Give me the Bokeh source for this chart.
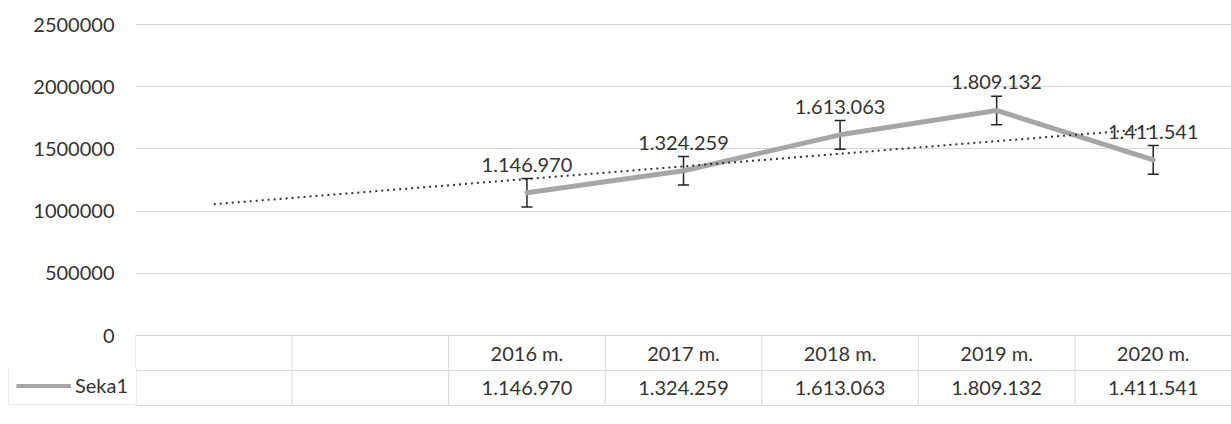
import numpy as np
from bokeh.plotting import figure
from bokeh.layouts import column
from bokeh.models import (Range1d, FixedTicker, NumeralTickFormatter, ColumnDataSource,
                          Whisker, TeeHead, Legend, LegendItem)
from bokeh.embed import file_html
from bokeh.resources import INLINE
from bokeh.core.properties import value

# ---------------- data ----------------
categories = ["", "", "2016 m.", "2017 m.", "2018 m.", "2019 m.", "2020 m."]
values = [None, None, 1146970, 1324259, 1613063, 1809132, 1411541]
value_labels = ["", "", "1.146.970", "1.324.259", "1.613.063", "1.809.132", "1.411.541"]
y_ticks = [0, 500000, 1000000, 1500000, 2000000, 2500000]
error_half = 115000          # standard-error bars
series_name = "Seka1"

# ---------------- layout constants ----------------
W = 1231
LEFT = 135
TOP_PX = 24                   # px of 2 500 000
ZERO_PX = 335                 # px of 0
ROW_PX = 35
SPLIT = 33                    # px below zero where the lower figure starts
H1 = ZERO_PX + SPLIT
H2 = 424 - H1
UPP = (y_ticks[-1] - y_ticks[0]) / (ZERO_PX - TOP_PX)   # data units per pixel
FONT = value("Lato")
TXT = "#333333"
GRID = "#d6d6d6"

n = len(categories)
xs = list(range(1, n + 1))
cat_px = (W - LEFT) / n

# ---------------- chart ----------------
p = figure(width=W, height=H1, output_backend="svg", toolbar_location=None,
           x_range=Range1d(0.5, n + 0.5),
           y_range=Range1d(-SPLIT * UPP, y_ticks[-1] + TOP_PX * UPP),
           x_axis_type=None, min_border_left=LEFT, min_border_right=0,
           min_border_top=0, min_border_bottom=0)
p.frame_align = False
p.outline_line_color = None
p.xgrid.visible = False

ax = p.yaxis[0]
ax.ticker = FixedTicker(ticks=y_ticks)
ax.formatter = NumeralTickFormatter(format="0")
ax.axis_line_color = None
ax.major_tick_line_color = None
ax.minor_tick_line_color = None
ax.major_label_standoff = 15
ax.major_label_text_font = "Lato"
ax.major_label_text_font_size = "20px"
ax.major_label_text_color = TXT
p.ygrid.ticker = FixedTicker(ticks=y_ticks)
p.ygrid.grid_line_color = GRID
p.ygrid.grid_line_width = 1

px_ = [x for x, v in zip(xs, values) if v is not None]
pv_ = [v for v in values if v is not None]
pl_ = [l for l, v in zip(value_labels, values) if v is not None]
src = ColumnDataSource(dict(x=px_, y=pv_, lab=pl_,
                            up=[v + error_half for v in pv_],
                            lo=[v - error_half for v in pv_]))

p.line("x", "y", source=src, line_color="#a6a6a6", line_width=5,
       line_join="round", line_cap="round")

p.add_layout(Whisker(base="x", upper="up", lower="lo", source=src,
                     line_color="#222222", line_width=1.5,
                     upper_head=TeeHead(size=11, line_color="#222222", line_width=1.5),
                     lower_head=TeeHead(size=11, line_color="#222222", line_width=1.5)))

# linear trendline over the category index (Excel style), across all categories
k, b = np.polyfit(px_, pv_, 1)
p.line([xs[0], xs[-1]], [k * xs[0] + b, k * xs[-1] + b], line_color="#333333",
       line_width=2, line_dash="2 4")

p.text("x", "y", text="lab", source=src, y_offset=-28, text_align="center",
       text_baseline="middle", text_font=FONT, text_font_size="20px", text_color=TXT)

# data table, header row (sits under the zero line)
bx = [i + 0.5 for i in range(0, n + 1)]
p.segment(x0=bx, x1=bx, y0=[0] * len(bx), y1=[-SPLIT * UPP] * len(bx),
          line_color=GRID, line_width=1)
tx = [x for x, c in zip(xs, categories) if c]
tc = [c for c in categories if c]
tv = [l for l in value_labels if l]
p.text(tx, [-0.5 * ROW_PX * UPP] * len(tx), text=tc, text_align="center",
       text_baseline="middle", text_font=FONT, text_font_size="20px", text_color=TXT)

# ---------------- data table, value row ----------------
t = figure(width=W, height=H2, output_backend="svg", toolbar_location=None,
           x_range=Range1d(0.5 - LEFT / cat_px, n + 0.5),
           y_range=Range1d(-(SPLIT + H2), -SPLIT),
           x_axis_type=None, y_axis_type=None,
           min_border_left=0, min_border_right=0, min_border_top=0, min_border_bottom=0)
t.frame_align = False
t.outline_line_color = None
t.grid.visible = False

t.segment(x0=bx, x1=bx, y0=[-SPLIT] * len(bx), y1=[-2 * ROW_PX] * len(bx),
          line_color=GRID, line_width=1)
t.segment(x0=[0.5, 0.5], x1=[n + 0.5, n + 0.5], y0=[-ROW_PX, -2 * ROW_PX],
          y1=[-ROW_PX, -2 * ROW_PX], line_color=GRID, line_width=1)
t.text(tx, [-1.5 * ROW_PX] * len(tx), text=tv, text_align="center", text_baseline="middle",
       text_font=FONT, text_font_size="20px", text_color=TXT)

key = t.line(x=[-50, -49], y=[-500, -500], line_color="#a6a6a6", line_width=4)
legend = Legend(items=[LegendItem(label=series_name, renderers=[key])],
                location=(8, SPLIT + H2 - 2 * ROW_PX), orientation="vertical",
                padding=7, margin=0, spacing=0, glyph_width=55, glyph_height=21,
                label_height=21, label_width=54, label_standoff=4,
                label_text_font="Lato", label_text_font_size="20px",
                label_text_color=TXT, border_line_color=GRID,
                background_fill_color="white", background_fill_alpha=1)
t.add_layout(legend)

layout = column(p, t, spacing=0)
open("out.html", "w").write(file_html(layout, INLINE))
